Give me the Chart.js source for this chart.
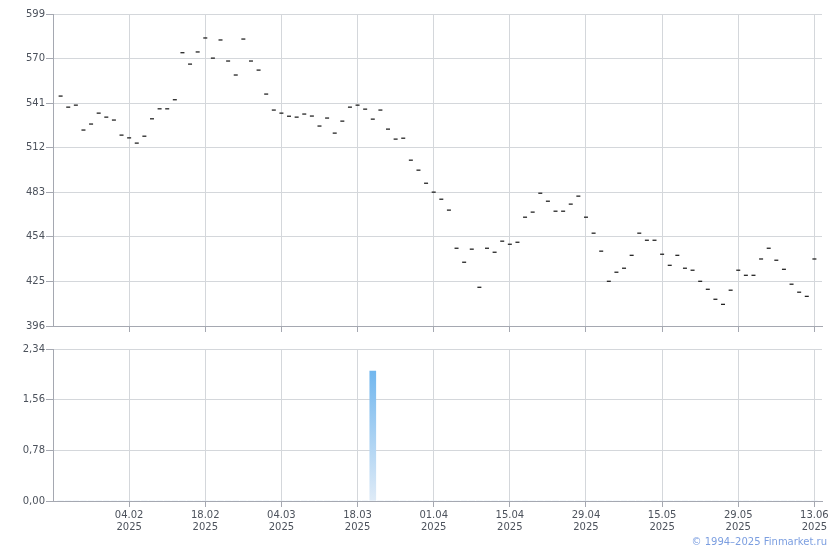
<!DOCTYPE html>
<html>
<head>
<meta charset="utf-8">
<script src="https://cdn.jsdelivr.net/npm/chart.js@4.4.1/dist/chart.umd.min.js"></script>
<style>
  html, body { margin: 0; padding: 0; background: #fff; }
  #wrap { position: relative; width: 840px; height: 550px; }
  #priceBox { position: absolute; left: 0; top: 0; width: 840px; height: 340px; }
  #volumeBox { position: absolute; left: 0; top: 340px; width: 840px; height: 210px; }
  #copy {
    position: absolute; right: 13px; top: 536px;
    font: 10px "DejaVu Sans", sans-serif; color: #7b9ee0;
  }
</style>
</head>
<body>
<div id="wrap">
  <div id="priceBox"><canvas id="priceChart"></canvas></div>
  <div id="volumeBox"><canvas id="volumeChart"></canvas></div>
  <div id="copy">© 1994–2025 Finmarket.ru</div>
</div>
<script>
const prices = [
  545.6, 538.4, 539.7, 523.5, 527.4, 534.5, 531.9, 530.0, 520.2, 518.4,
  515.0, 519.5, 530.8, 537.3, 537.3, 543.2, 573.8, 566.4, 574.3, 583.4,
  570.3, 582.1, 568.4, 559.3, 582.7, 568.4, 562.5, 546.9, 536.5, 534.5,
  532.5, 531.9, 533.9, 532.6, 526.1, 531.3, 521.5, 529.3, 538.4, 539.7,
  537.1, 530.6, 536.5, 524.1, 517.6, 518.2, 503.9, 497.4, 488.9, 483.1,
  478.5, 471.4, 446.6, 437.5, 446.0, 421.2, 446.6, 444.0, 451.2, 449.2,
  450.5, 466.8, 470.1, 482.4, 477.2, 470.7, 470.7, 475.3, 480.5, 466.8,
  456.4, 444.7, 425.1, 431.0, 433.6, 442.0, 456.4, 451.8, 451.8, 442.7,
  435.5, 442.0, 433.6, 432.3, 425.1, 419.9, 413.4, 410.1, 419.3, 432.3,
  429.0, 429.0, 439.6, 446.6, 438.8, 432.9, 423.2, 418.0, 415.3, 439.6
];

const volumes = [
  0, 0, 0, 0, 0, 0, 0, 0, 0, 0, 0, 0, 0, 0, 0, 0, 0, 0, 0, 0,
  0, 0, 0, 0, 0, 0, 0, 0, 0, 0, 0, 0, 0, 0, 0, 0, 0, 0, 0, 0,
  0, 2.0, 0, 0, 0, 0, 0, 0, 0, 0, 0, 0, 0, 0, 0, 0, 0, 0, 0, 0,
  0, 0, 0, 0, 0, 0, 0, 0, 0, 0, 0, 0, 0, 0, 0, 0, 0, 0, 0, 0,
  0, 0, 0, 0, 0, 0, 0, 0, 0, 0, 0, 0, 0, 0, 0, 0, 0, 0, 0, 0
];

const tickIndex = [9, 19, 29, 39, 49, 59, 69, 79, 89, 99];
const tickLabels = ["04.02", "18.02", "04.03", "18.03", "01.04", "15.04", "29.04", "15.05", "29.05", "13.06"];
const tickYear = "2025";
const priceTicks = [396, 425, 454, 483, 512, 541, 570, 599];
const volumeTicks = [0, 0.78, 1.56, 2.34];

const gridColor = "#d4d7db";
const axisColor = "#a5a8b1";
const labelColor = "#4c525c";
const font = { family: "DejaVu Sans", size: 10 };

function xScale(showLabels, height) {
  return {
    type: "linear",
    min: -1,
    max: 100,
    offset: false,
    afterBuildTicks: (s) => { s.ticks = tickIndex.map((v) => ({ value: v })) },
    afterFit: (s) => { s.height = height },
    grid: { offset: false, color: gridColor, tickColor: axisColor, tickLength: 6 },
    border: { color: axisColor },
    ticks: {
      display: showLabels,
      autoSkip: false,
      maxRotation: 0,
      padding: 2,
      color: labelColor,
      font: font,
      callback: (v) => {
        const i = tickIndex.indexOf(v);
        return i < 0 ? "" : [tickLabels[i], tickYear];
      }
    }
  };
}

function yScale(values, format) {
  return {
    min: values[0],
    max: values[values.length - 1],
    afterBuildTicks: (s) => { s.ticks = values.map((v) => ({ value: v })) },
    afterFit: (s) => { s.width = 53 },
    grid: { color: gridColor, tickColor: axisColor, tickLength: 7 },
    border: { color: axisColor },
    ticks: { padding: 1, color: labelColor, font: font, callback: format }
  };
}

new Chart(document.getElementById("priceChart"), {
  type: "line",
  data: {
    datasets: [{
      data: prices.map((v, i) => ({ x: i, y: v })),
      showLine: false,
      pointStyle: "line",
      pointRadius: 2,
      pointBorderWidth: 1.2,
      pointBorderColor: "#111",
      borderColor: "#111"
    }]
  },
  options: {
    responsive: true,
    maintainAspectRatio: false,
    animation: false,
    layout: { padding: { top: 14, right: 18, left: 0, bottom: 0 } },
    plugins: { legend: { display: false }, tooltip: { enabled: false } },
    scales: {
      x: xScale(false, 14),
      y: yScale(priceTicks, (v) => String(v))
    }
  }
});

new Chart(document.getElementById("volumeChart"), {
  type: "bar",
  data: {
    datasets: [{
      data: volumes.map((v, i) => ({ x: i, y: v })),
      barThickness: 6,
      backgroundColor: (ctx) => {
        const area = ctx.chart.chartArea;
        if (!area) return "#8cc4f0";
        const g = ctx.chart.ctx.createLinearGradient(0, area.bottom, 0, area.top + 20);
        g.addColorStop(0, "#dfebf7");
        g.addColorStop(1, "#70b6ee");
        return g;
      }
    }]
  },
  options: {
    responsive: true,
    maintainAspectRatio: false,
    animation: false,
    layout: { padding: { top: 9, right: 18, left: 0, bottom: 0 } },
    plugins: { legend: { display: false }, tooltip: { enabled: false } },
    scales: {
      x: xScale(true, 49),
      y: yScale(volumeTicks, (v) => v.toFixed(2).replace(".", ","))
    }
  }
});
</script>
</body>
</html>
